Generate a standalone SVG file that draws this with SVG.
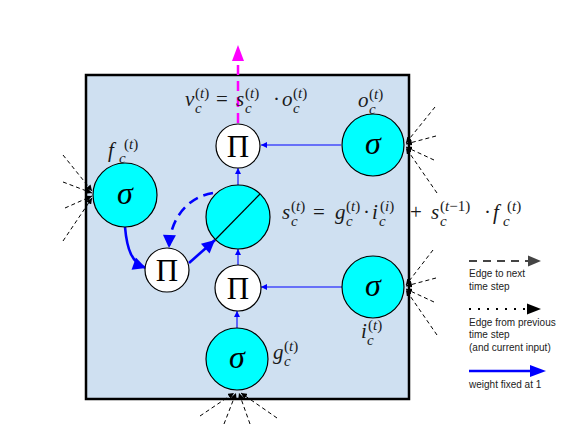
<svg xmlns="http://www.w3.org/2000/svg" width="584" height="434" viewBox="0 0 584 434">
<defs>
<marker id="ab" viewBox="0 0 10 10" refX="10" refY="5" markerWidth="7" markerHeight="6" orient="auto" markerUnits="userSpaceOnUse"><path d="M0,0 L10,5 L0,10 z" fill="#0000ff"/></marker>
<marker id="abt" viewBox="0 0 10 10" refX="10" refY="5" markerWidth="15" markerHeight="13" orient="auto" markerUnits="userSpaceOnUse"><path d="M0,0 L10,5 L0,10 z" fill="#0000ff"/></marker>
<marker id="ak" viewBox="0 0 10 10" refX="10" refY="5" markerWidth="6" markerHeight="6" orient="auto" markerUnits="userSpaceOnUse"><path d="M0,0 L10,5 L0,10 z" fill="#000"/></marker>
</defs>
<style>
.box{fill:#cfe0f1;stroke:#000;stroke-width:2.5}
.sig{fill:#00ffff;stroke:#000;stroke-width:1.2}
.pi{fill:#fff;stroke:#000;stroke-width:1.2}
.sg{font-family:"Liberation Serif",serif;font-style:italic;font-size:32px;text-anchor:middle}
.pt{font-family:"Liberation Serif",serif;font-size:31px;text-anchor:middle}
.m{font-family:"Liberation Serif",serif;font-size:21px;fill:#1a1a1a}
.s{font-size:15px}
.it{font-style:italic}
.thin{stroke:#0000ff;stroke-width:1.1;fill:none;marker-end:url(#ab)}
.thick{stroke:#0000ff;stroke-width:2.6;fill:none;marker-end:url(#abt)}
.in{stroke:#000;stroke-width:1;stroke-dasharray:4,3;fill:none;marker-end:url(#ak)}
.lg{font-family:"Liberation Sans",sans-serif;font-size:10px;fill:#222}
</style>
<rect class="box" x="86" y="75" width="323" height="324"/>
<g id="connectors">
<line x1="238" y1="123" x2="238" y2="60" stroke="#ff00ff" stroke-width="2.5" stroke-dasharray="10,6"/>
<path d="M238,45 L232,61 L244,61 z" fill="#ff00ff"/>
<line class="thin" x1="341" y1="145" x2="261" y2="145"/>
<line class="thin" x1="342" y1="287" x2="261" y2="287"/>
<line class="thin" x1="237" y1="328" x2="237" y2="311"/>
<line class="thin" x1="238" y1="265" x2="238" y2="249"/>
<line class="thin" x1="238" y1="185" x2="238" y2="168"/>
<path class="thick" d="M125,227 C127,250 132,263 146,268"/>
<line class="thick" x1="189" y1="263" x2="215" y2="240"/>
<path class="thick" d="M213,193 C188,197 170,218 169,248" stroke-dasharray="10,6"/>
<line class="in" x1="63" y1="155" x2="92" y2="191"/>
<line class="in" x1="63" y1="182" x2="92" y2="193"/>
<line class="in" x1="65" y1="208" x2="92" y2="196"/>
<line class="in" x1="63" y1="241" x2="92" y2="198"/>
<line class="in" x1="435" y1="107" x2="406" y2="143"/>
<line class="in" x1="436" y1="136" x2="406" y2="144"/>
<line class="in" x1="434" y1="160" x2="406" y2="147"/>
<line class="in" x1="437" y1="193" x2="406" y2="148"/>
<line class="in" x1="433" y1="250" x2="406" y2="285"/>
<line class="in" x1="436" y1="278" x2="406" y2="286"/>
<line class="in" x1="434" y1="302" x2="406" y2="289"/>
<line class="in" x1="437" y1="335" x2="406" y2="290"/>
<line class="in" x1="200" y1="416" x2="234" y2="393"/>
<line class="in" x1="224" y1="424" x2="236" y2="393"/>
<line class="in" x1="250" y1="424" x2="239" y2="393"/>
<line class="in" x1="277" y1="418" x2="241" y2="393"/>
</g>
<g id="node-pi-top"><circle class="pi" cx="238" cy="146" r="22"/><text class="pt" x="238" y="157">Π</text></g>
<g id="node-o"><circle class="sig" cx="373" cy="145" r="31"/><text class="sg" x="373" y="154">σ</text></g>
<g id="node-f"><circle class="sig" cx="125" cy="195" r="32"/><text class="sg" x="125" y="204">σ</text></g>
<g id="node-pi-left"><circle class="pi" cx="167" cy="270" r="22"/><text class="pt" x="167" y="281">Π</text></g>
<g id="node-s"><circle class="sig" cx="238" cy="217" r="32"/><line x1="260" y1="194" x2="215" y2="240" stroke="#000" stroke-width="1.2"/></g>
<g id="node-pi-low"><circle class="pi" cx="238" cy="288" r="23"/><text class="pt" x="238" y="299">Π</text></g>
<g id="node-i"><circle class="sig" cx="373" cy="287" r="31"/><text class="sg" x="373" y="296">σ</text></g>
<g id="node-g"><circle class="sig" cx="237" cy="359" r="31"/><text class="sg" x="237" y="368">σ</text></g>
<g id="labels">
<text class="m"><tspan class="it" x="185" y="106">v</tspan><tspan class="s it" x="195" y="113">c</tspan><tspan class="s" x="195" y="98">(<tspan class="it">t</tspan>)</tspan><tspan x="216" y="106">=</tspan><tspan class="it" x="236" y="106">s</tspan><tspan class="s it" x="245" y="113">c</tspan><tspan class="s" x="245" y="98">(<tspan class="it">t</tspan>)</tspan><tspan x="273" y="106">·</tspan><tspan class="it" x="282" y="106">o</tspan><tspan class="s it" x="293" y="113">c</tspan><tspan class="s" x="293" y="98">(<tspan class="it">t</tspan>)</tspan></text>
<text class="m"><tspan class="it" x="108" y="157">f</tspan><tspan class="s it" x="119" y="163">c</tspan><tspan class="s" x="124" y="149">(<tspan class="it">t</tspan>)</tspan></text>
<text class="m"><tspan class="it" x="358" y="107">o</tspan><tspan class="s it" x="369" y="114">c</tspan><tspan class="s" x="369" y="99">(<tspan class="it">t</tspan>)</tspan></text>
<text class="m"><tspan class="it" x="282" y="219">s</tspan><tspan class="s it" x="291" y="226">c</tspan><tspan class="s" x="291" y="211">(<tspan class="it">t</tspan>)</tspan><tspan x="313" y="219">=</tspan><tspan class="it" x="335" y="219">g</tspan><tspan class="s it" x="346" y="226">c</tspan><tspan class="s" x="346" y="211">(<tspan class="it">t</tspan>)</tspan><tspan x="363" y="219">·</tspan><tspan class="it" x="372" y="219">i</tspan><tspan class="s it" x="379" y="226">c</tspan><tspan class="s" x="380" y="211">(<tspan class="it">i</tspan>)</tspan><tspan x="410" y="219">+</tspan><tspan class="it" x="431" y="219">s</tspan><tspan class="s it" x="440" y="226">c</tspan><tspan class="s" x="440" y="211">(<tspan class="it">t</tspan>−1)</tspan><tspan x="484" y="219">·</tspan><tspan class="it" x="493" y="219">f</tspan><tspan class="s it" x="503" y="226">c</tspan><tspan class="s" x="507" y="211">(<tspan class="it">t</tspan>)</tspan></text>
<text class="m"><tspan class="it" x="273" y="359">g</tspan><tspan class="s it" x="284" y="366">c</tspan><tspan class="s" x="284" y="351">(<tspan class="it">t</tspan>)</tspan></text>
<text class="m"><tspan class="it" x="361" y="338">i</tspan><tspan class="s it" x="367" y="345">c</tspan><tspan class="s" x="368" y="330">(<tspan class="it">t</tspan>)</tspan></text>
</g>
<g id="legend">
<line x1="469" y1="261" x2="529" y2="261" stroke="#444" stroke-width="2" stroke-dasharray="8,6"/>
<path d="M541,261 L528,255.5 L528,266.5 z" fill="#444"/>
<text class="lg" x="469" y="277">Edge to next</text>
<text class="lg" x="469" y="290">time step</text>
<line x1="469" y1="309" x2="527" y2="309" stroke="#000" stroke-width="2" stroke-dasharray="2,7"/>
<path d="M541,309 L527,303.5 L527,314.5 z" fill="#000"/>
<text class="lg" x="469" y="326">Edge from previous</text>
<text class="lg" x="469" y="338">time step</text>
<text class="lg" x="469" y="351">(and current input)</text>
<line x1="469" y1="371" x2="532" y2="371" stroke="#0000ff" stroke-width="2.5"/>
<path d="M546,371 L530,365 L530,377 z" fill="#0000ff"/>
<text class="lg" x="469" y="388">weight fixed at 1</text>
</g>
</svg>
